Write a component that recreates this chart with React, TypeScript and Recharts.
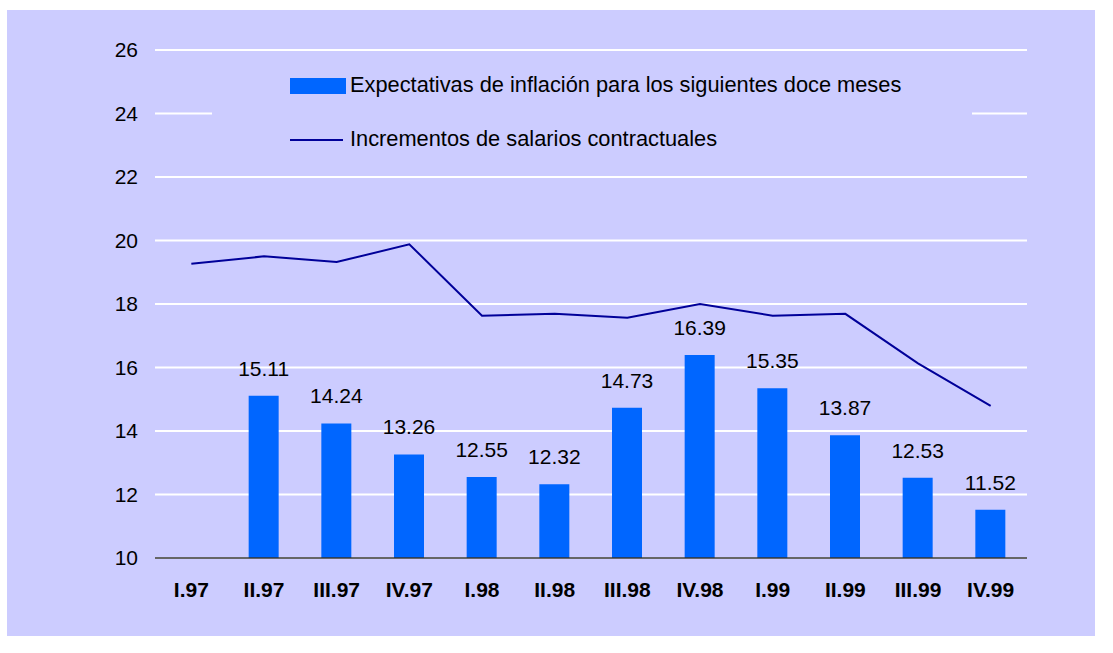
import {
  ComposedChart,
  Bar,
  Line,
  XAxis,
  YAxis,
  CartesianGrid,
  Legend,
  LabelList,
} from 'recharts';

const quarters = ['I.97', 'II.97', 'III.97', 'IV.97', 'I.98', 'II.98', 'III.98', 'IV.98', 'I.99', 'II.99', 'III.99', 'IV.99'];
const expectativas = [null, 15.11, 14.24, 13.26, 12.55, 12.32, 14.73, 16.39, 15.35, 13.87, 12.53, 11.52];
const salarios = [19.27, 19.5, 19.32, 19.88, 17.63, 17.69, 17.57, 18.0, 17.63, 17.69, 16.13, 14.79];
const yTicks = [10, 12, 14, 16, 18, 20, 22, 24, 26];

const FONT = 'Arial, "Liberation Sans", sans-serif';
const BG = '#ccccff';
const BAR = '#0066ff';
const LINE = '#000099';

const data = quarters.map((q, i) => ({
  q,
  exp: expectativas[i],
  sal: salarios[i],
}));

function ChartLegend({ payload }: any) {
  const items = payload || [];
  return (
    <div style={{ position: 'relative', width: 760, height: 100, fontFamily: FONT, fontSize: 21.8, color: '#000' }}>
      {items.map((it: any, i: number) => {
        const cy = i === 0 ? 24 : 78;
        const isBar = it.type === 'rect';
        return (
          <div key={it.value}>
            {isBar ? (
              <div style={{ position: 'absolute', left: 78, top: cy - 8, width: 56, height: 16, background: it.color }} />
            ) : (
              <div style={{ position: 'absolute', left: 78, top: cy - 1, width: 53, height: 2, background: it.color }} />
            )}
            <div style={{ position: 'absolute', left: 138, top: cy - 13, lineHeight: '24px', whiteSpace: 'nowrap' }}>
              {it.value}
            </div>
          </div>
        );
      })}
    </div>
  );
}

export default function App() {
  return (
    <div style={{ position: 'absolute', left: 7, top: 10, width: 1088, height: 626, background: BG, fontFamily: FONT }}>
      <ComposedChart width={1088} height={626} data={data} margin={{ top: 40, right: 68, bottom: 38, left: 88 }}>
        <CartesianGrid vertical={false} stroke="#ffffff" strokeWidth={2} />
        <XAxis
          dataKey="q"
          height={40}
          axisLine={{ stroke: '#333333', strokeWidth: 1.5 }}
          tickLine={false}
          tickMargin={18}
          tick={{ fontSize: 21, fontWeight: 'bold', fill: '#000', fontFamily: FONT }}
          interval={0}
        />
        <YAxis
          domain={[10, 26]}
          ticks={yTicks}
          width={60}
          axisLine={false}
          tickLine={false}
          tickMargin={11}
          tick={{ fontSize: 21, fill: '#000', fontFamily: FONT }}
          allowDataOverflow
        />
        <Legend
          layout="horizontal"
          verticalAlign="middle"
          align="center"
          content={<ChartLegend />}
          wrapperStyle={{ position: 'absolute', left: 205, top: 52, width: 760, height: 100, background: BG }}
        />
        <Bar
          dataKey="exp"
          name="Expectativas de inflación para los siguientes doce meses"
          fill={BAR}
          barSize={30}
          legendType="rect"
          isAnimationActive={false}
        >
          <LabelList dataKey="exp" position="top" offset={20} fill="#000" fontSize={21} fontFamily={FONT} />
        </Bar>
        <Line
          dataKey="sal"
          name="Incrementos de salarios contractuales"
          type="linear"
          stroke={LINE}
          strokeWidth={2}
          dot={false}
          activeDot={false}
          legendType="line"
          isAnimationActive={false}
        />
      </ComposedChart>
    </div>
  );
}
